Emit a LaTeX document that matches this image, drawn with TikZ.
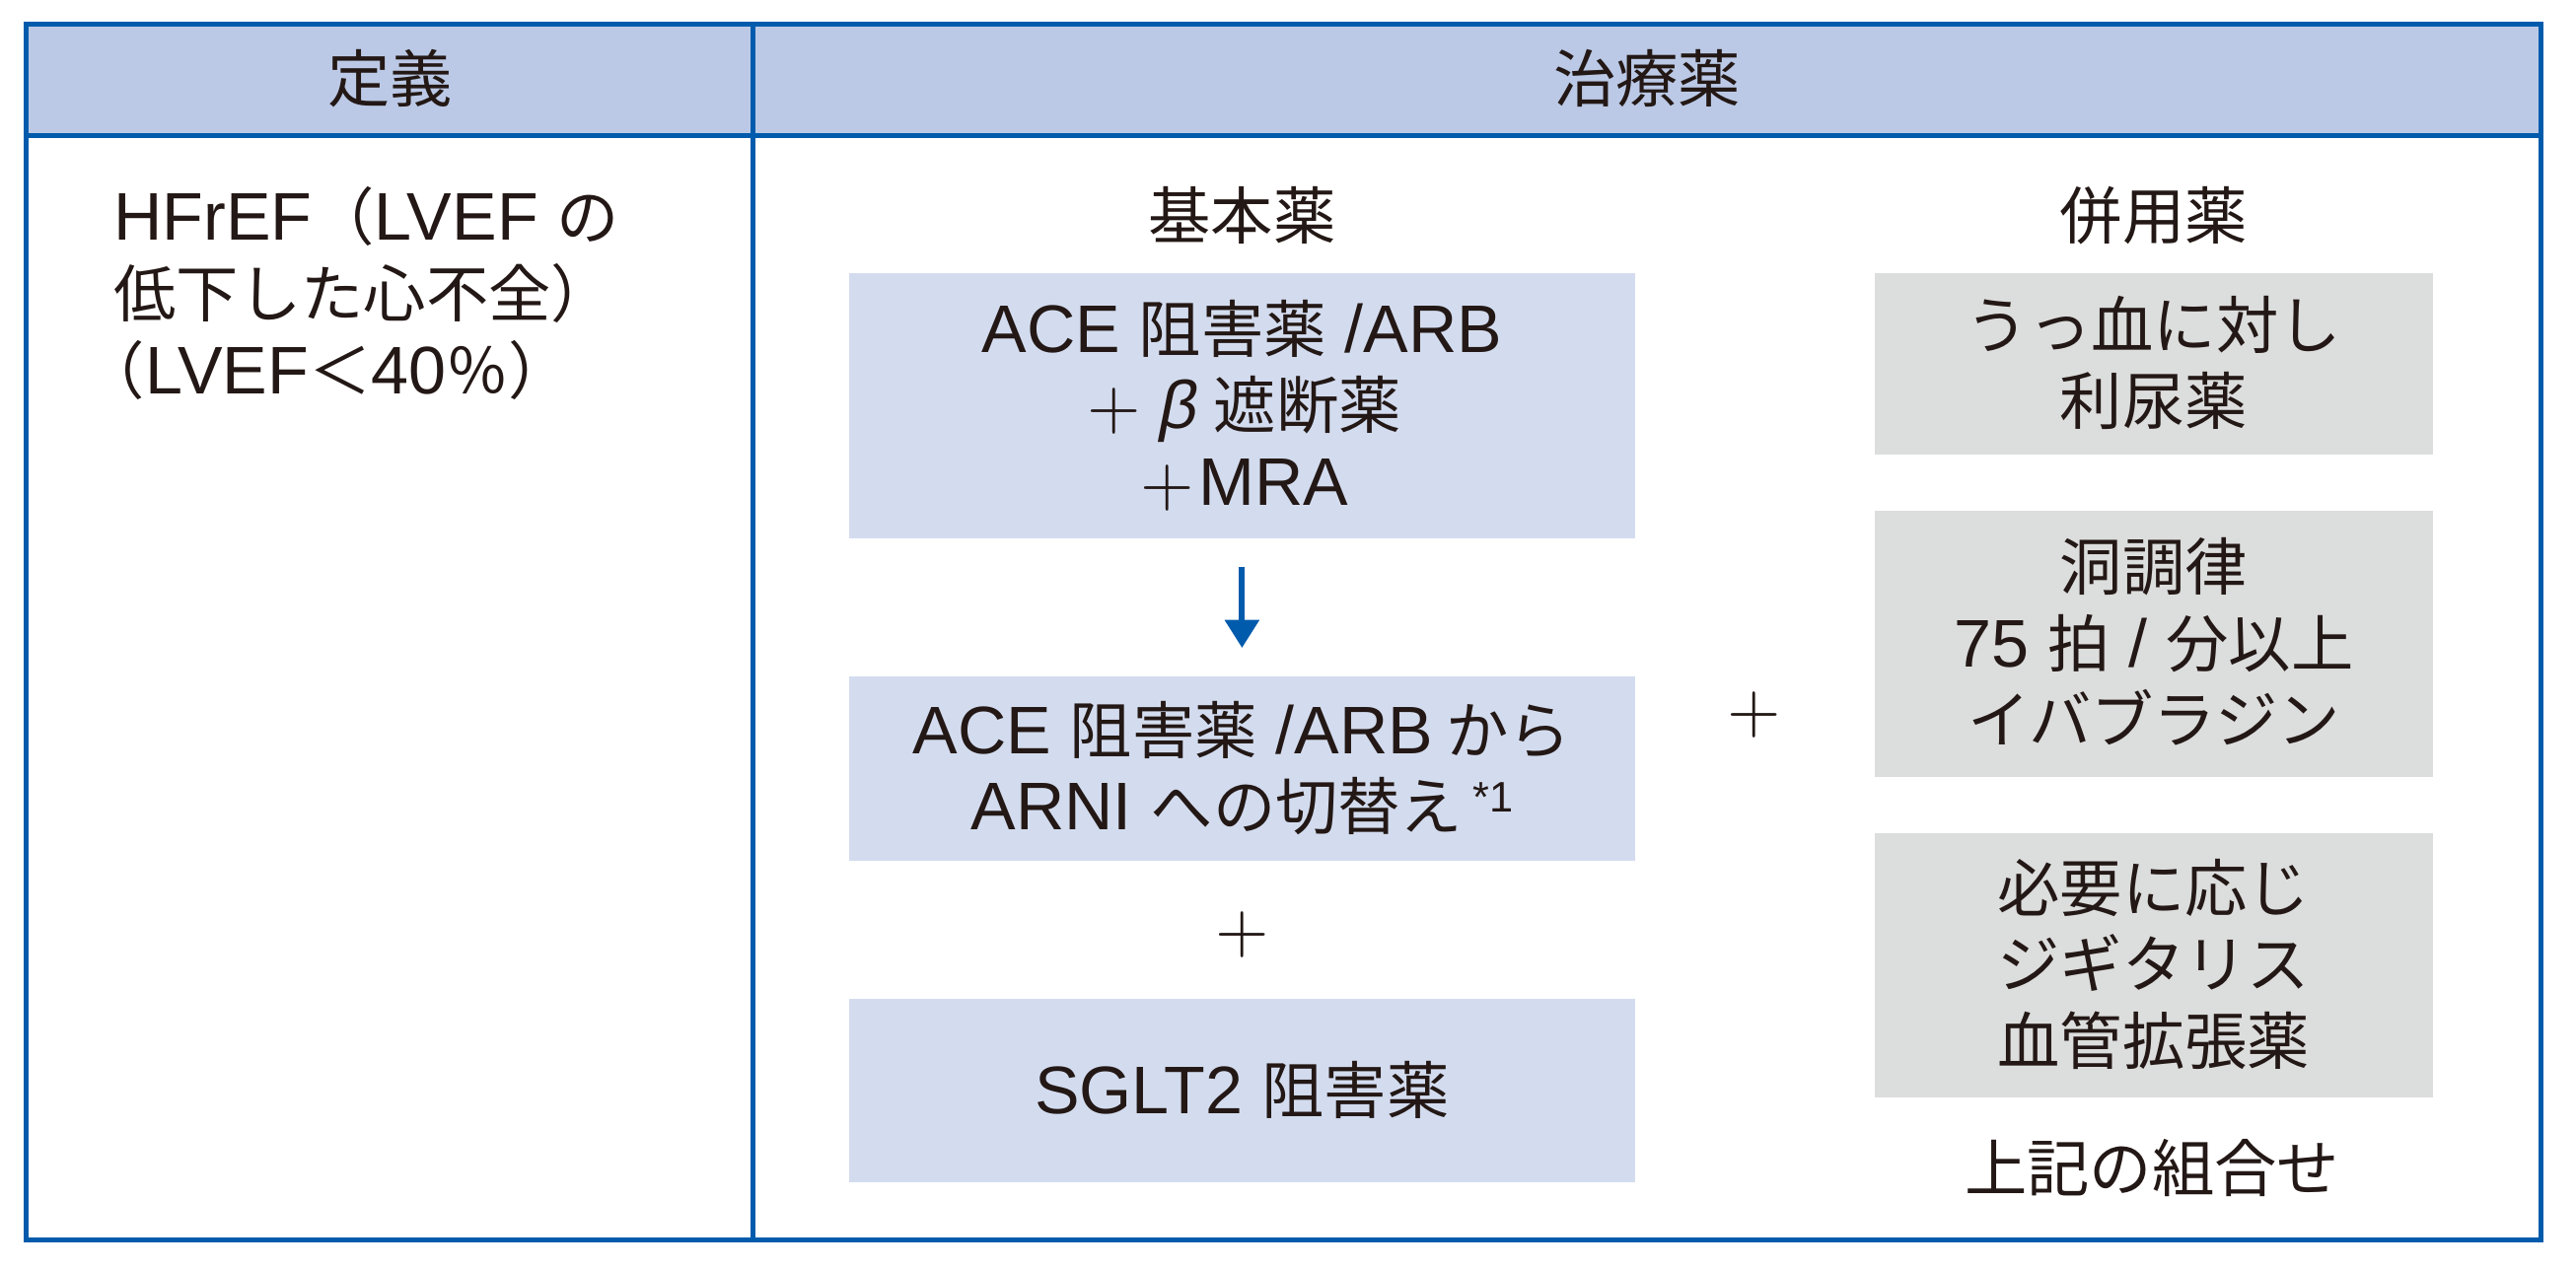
\documentclass[tikz,border=0pt]{standalone}
\usepackage{fontspec}
\setmainfont{Liberation Sans}
\newfontfamily\jp[Scale=0.927]{Noto Sans CJK JP}
\newfontfamily\slnt[FakeSlant=0.2]{Liberation Sans}
\newfontfamily\lmr[Extension=.otf]{lmroman10-regular}
\usetikzlibrary{arrows.meta}
\definecolor{tblue}{HTML}{005BAC}
\definecolor{hdrblue}{HTML}{BBC9E6}
\definecolor{boxblue}{HTML}{D3DCEF}
\definecolor{boxgray}{HTML}{DCDDDD}
\definecolor{txt}{HTML}{231815}
\newcommand\jt[1]{{\jp #1}}
\newcommand\ms{\rule[-4.6pt]{0pt}{18.6pt}}
\newcommand\msb{\rule[-3.1pt]{0pt}{20.1pt}}
\newcommand\thinplus{{\lmr\fontsize{21pt}{21pt}\selectfont +}}
\newcommand\fwplus{\makebox[19pt]{\thinplus}}
\newcommand\bodyfont{\fontsize{20.5pt}{23.25pt}\selectfont}
\begin{document}
\begin{tikzpicture}[x=0.5pt,y=-0.5pt,
  every node/.style={inner sep=0pt, text=txt, font=\bodyfont},
  bluebox/.style={fill=boxblue, minimum width=239pt, align=center},
  graybox/.style={fill=boxgray, minimum width=170pt, align=center},
  tframe/.style={draw=tblue, line width=1.55pt},
  flow/.style={draw=tblue, line width=1.75pt, -{Triangle[width=10.2pt,length=8.5pt]}, shorten <=8.25pt, shorten >=8.6pt},
]
\useasboundingbox (0,0) rectangle (1568,773);
% table
\fill[hdrblue] (16,14.6) rectangle (1546.5,82.7);
\draw[tframe] (16,14.6) rectangle (1546.5,755);
\draw[tframe] (16,82.7) -- (1546.5,82.7);
\draw[tframe] (458.5,14.6) -- (458.5,755);
% headers
\node (hdef) at (237.5,50.5) {\jt{定義}\ms};
\node (htrt) at (1002.5,50.5) {\jt{治療薬}\ms};
% definition
\node (def) [anchor=west, align=left, font=\fontsize{20.5pt}{23.5pt}\selectfont] at (69,179)
  {HFrEF\jt{（}LVEF \jt{の}\msb\\\jt{低下した心不全）}\msb\\\makebox[9.5pt][r]{\jt{（}}LVEF\jt{＜}40\jt{％）}\msb};
% column titles
\node (kihon) at (756,134) {\jt{基本薬}\ms};
\node (heiyo) at (1311,134) {\jt{併用薬}\ms};
% basic drugs
\node (b1) [bluebox, minimum height=81pt] at (756,247)
  {ACE \jt{阻害薬} /ARB\msb\\\fwplus\,{\slnt β} \jt{遮断薬}\msb\\\fwplus MRA\msb};
\node (b2) [bluebox, minimum height=56pt] at (756,468)
  {ACE \jt{阻害薬} /ARB\hspace{4pt}\jt{から}\msb\\ARNI \jt{への切替え}\hspace{3pt}\raisebox{5.5pt}{\fontsize{13pt}{13pt}\selectfont *1}\msb};
\node (p1) at (756,569) {\thinplus};
\node (b3) [bluebox, minimum height=56pt] at (756,664) {SGLT2 \jt{阻害薬}\msb};
\draw[flow] (b1.south) -- (b2.north);
% concomitant drugs
\node (p2) at (1067.5,435) {\thinplus};
\node (g1) [graybox, minimum height=55.5pt] at (1311,221.5)
  {\jt{うっ血に対し}\msb\\\jt{利尿薬}\msb};
\node (g2) [graybox, minimum height=81pt] at (1311,392)
  {\jt{洞調律}\msb\\75 \jt{拍} / \jt{分以上}\msb\\\jt{イバブラジン}\msb};
\node (g3) [graybox, minimum height=80.5pt] at (1311,587.5)
  {\jt{必要に応じ}\msb\\\jt{ジギタリス}\msb\\\jt{血管拡張薬}\msb};
\node (comb) at (1310,714) {\jt{上記の組合せ}\ms};
\end{tikzpicture}
\end{document}
